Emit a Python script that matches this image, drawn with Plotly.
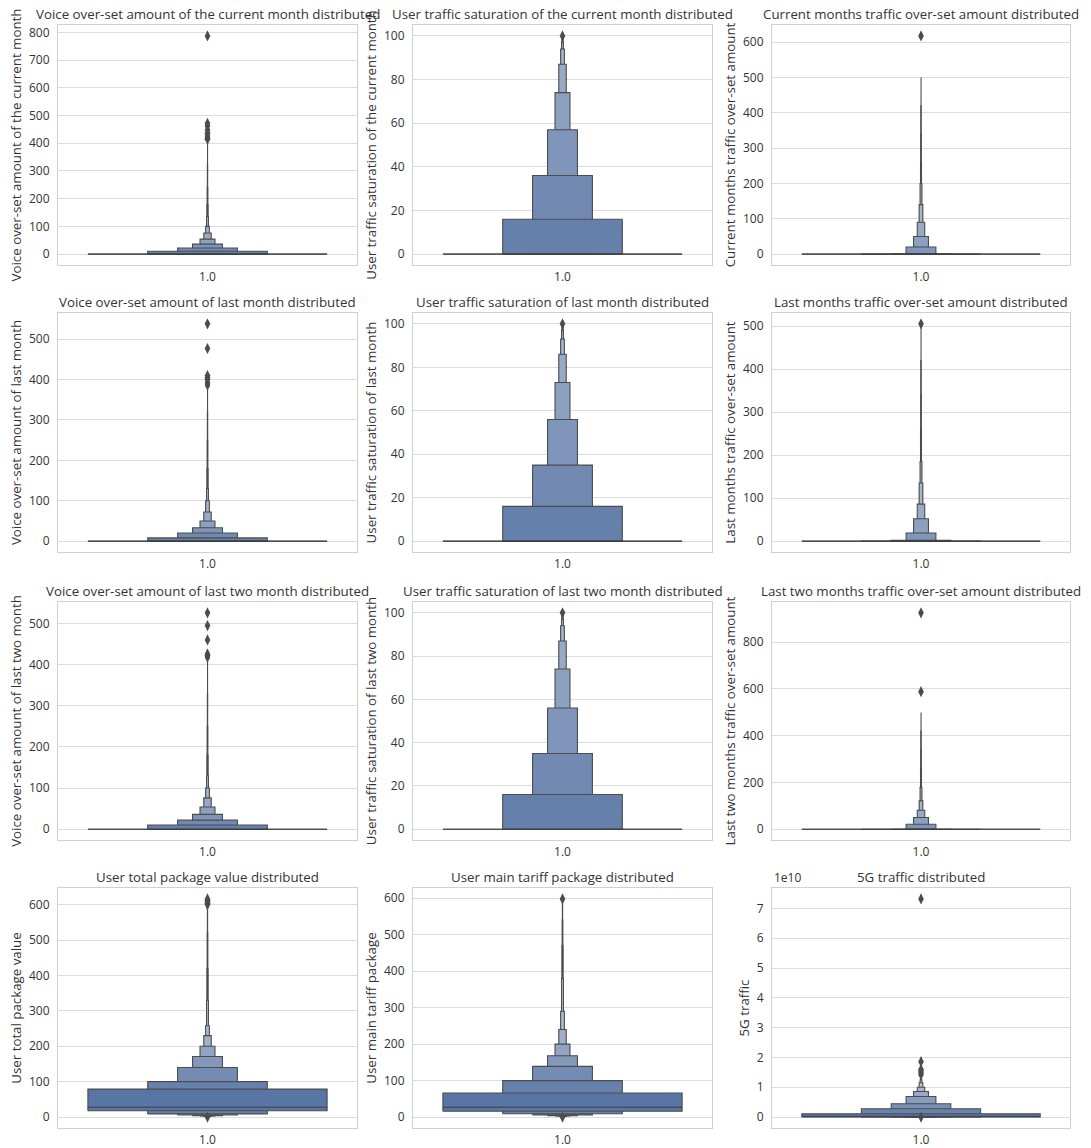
import plotly.graph_objects as go

# ---------------- data (letter values) ----------------
titles = [
    "Voice over-set amount of the current month distributed",
    "User traffic saturation of the current month distributed",
    "Current months traffic over-set amount distributed",
    "Voice over-set amount of last month distributed",
    "User traffic saturation of last month distributed",
    "Last months traffic over-set amount distributed",
    "Voice over-set amount of last two month distributed",
    "User traffic saturation of last two month distributed",
    "Last two months traffic over-set amount distributed",
    "User total package value distributed",
    "User main tariff package distributed",
    "5G traffic distributed",
]
ylabels = [
    "Voice over-set amount of the current month",
    "User traffic saturation of the current month",
    "Current months traffic over-set amount",
    "Voice over-set amount of last month",
    "User traffic saturation of last month",
    "Last months traffic over-set amount",
    "Voice over-set amount of last two month",
    "User traffic saturation of last two month",
    "Last two months traffic over-set amount",
    "User total package value",
    "User main tariff package",
    "5G traffic",
]
category_label = "1.0"

# upper / lower letter values, from the quartiles (IQR box) outward
p1_hi = [0, 10, 22, 36, 54, 76, 100, 136, 180, 240, 320, 402]
p1_lo = [0] * 12
p1_med = 0
p1_out = [414, 420, 426, 436, 448, 462, 472, 787]

p2_hi = [0, 16, 36, 57, 74, 87, 94, 97, 99, 99.6, 100, 100]
p2_lo = [0] * 12
p2_med = 0
p2_out = [100]

p3_hi = [0, 0, 2, 20, 50, 90, 140, 200, 260, 340, 420, 500]
p3_lo = [0] * 12
p3_med = 0
p3_out = [618]

p4_hi = [0, 8, 20, 33, 50, 72, 100, 130, 180, 250, 320, 380]
p4_lo = [0] * 12
p4_med = 0
p4_out = [386, 392, 400, 405, 410, 477, 538]

p5_hi = [0, 16, 35, 56, 73, 86, 93, 97, 99, 99.6, 100, 100]
p5_lo = [0] * 12
p5_med = 0
p5_out = [100]

p6_hi = [0, 0, 2, 19, 52, 86, 135, 185, 260, 340, 420, 500]
p6_lo = [0] * 12
p6_med = 0
p6_out = [505]

p7_hi = [0, 10, 22, 36, 54, 76, 100, 130, 180, 250, 330, 410]
p7_lo = [0] * 12
p7_med = 0
p7_out = [418, 422, 426, 460, 495, 526]

p8_hi = [0, 16, 35, 56, 74, 87, 94, 97, 99, 99.6, 100, 100]
p8_lo = [0] * 12
p8_med = 0
p8_out = [100]

p9_hi = [0, 0, 1, 21, 50, 81, 121, 178, 260, 340, 420, 499]
p9_lo = [0] * 12
p9_med = 0
p9_out = [588, 925]

p10_hi = [79, 100, 140, 171, 200, 230, 258, 330, 420, 520, 596]
p10_lo = [18, 9, 6, 4, 3, 2, 1.5, 1, 1, 0.5, 0.5]
p10_med = 28
p10_out = [0, 600, 604, 608, 612, 616]

p11_hi = [66, 100, 139, 168, 200, 240, 290, 380, 470, 540, 594]
p11_lo = [16, 9, 6, 4, 3, 2, 1.5, 1, 1, 0.5, 0.5]
p11_med = 27
p11_out = [0, 598]

p12_hi = [0.11e10, 0.28e10, 0.45e10, 0.69e10, 0.86e10, 1.0e10, 1.15e10, 1.25e10, 1.32e10, 1.38e10]
p12_lo = [0.004e10, 0.002e10, 0.001e10, 0.0008e10, 0.0006e10, 0.0004e10, 0.0003e10, 0.0002e10, 0.0001e10, 0.0001e10]
p12_med = 0.02e10
p12_out = [0, 1.42e10, 1.48e10, 1.55e10, 1.6e10, 1.86e10, 7.32e10]

ticks_800 = [0, 100, 200, 300, 400, 500, 600, 700, 800]
ticks_100 = [0, 20, 40, 60, 80, 100]
ticks_600 = [0, 100, 200, 300, 400, 500, 600]
ticks_500 = [0, 100, 200, 300, 400, 500]
ticks_800b = [0, 200, 400, 600, 800]
ticks_5g = [0, 1e10, 2e10, 3e10, 4e10, 5e10, 6e10, 7e10]
ticks_5g_text = ["0", "1", "2", "3", "4", "5", "6", "7"]
offset_5g = "1e10"

panels = [
    (p1_hi, p1_lo, p1_med, p1_out, ticks_800, None),
    (p2_hi, p2_lo, p2_med, p2_out, ticks_100, None),
    (p3_hi, p3_lo, p3_med, p3_out, ticks_600, None),
    (p4_hi, p4_lo, p4_med, p4_out, ticks_500, None),
    (p5_hi, p5_lo, p5_med, p5_out, ticks_100, None),
    (p6_hi, p6_lo, p6_med, p6_out, ticks_500, None),
    (p7_hi, p7_lo, p7_med, p7_out, ticks_500, None),
    (p8_hi, p8_lo, p8_med, p8_out, ticks_100, None),
    (p9_hi, p9_lo, p9_med, p9_out, ticks_800b, None),
    (p10_hi, p10_lo, p10_med, p10_out, ticks_600, None),
    (p11_hi, p11_lo, p11_med, p11_out, ticks_600, None),
    (p12_hi, p12_lo, p12_med, p12_out, ticks_5g, ticks_5g_text),
]

# ---------------- styling / layout ----------------
W, H = 1091, 1148
FONT = "Open Sans"
TXT = "#333333"
GRAY = "#4c4c4c"
BASE = (88, 117, 164)
LIGHT = tuple(b + 0.85 * (255 - b) for b in BASE)
BOX_W = 0.8
TITLE_SIZE = 13.3
TICK_SIZE = 12

col_px = [(58, 357), (413, 712), (772, 1070)]
row_px = [(25, 265), (313, 552), (602, 840), (888, 1128)]


def level_color(v):
    c = [round(b + v * (l - b)) for b, l in zip(BASE, LIGHT)]
    return "rgb(%d,%d,%d)" % tuple(c)


fig = go.Figure()
annotations = []
layout = {}

for idx, (hi, lo, med, out, tv, tt) in enumerate(panels):
    r, c = divmod(idx, 3)
    n = idx + 1
    xa = "x" if n == 1 else "x%d" % n
    ya = "y" if n == 1 else "y%d" % n
    xk = "xaxis" if n == 1 else "xaxis%d" % n
    yk = "yaxis" if n == 1 else "yaxis%d" % n

    x0, x1 = col_px[c]
    y0, y1 = row_px[r]
    xd = [x0 / W, x1 / W]
    yd = [1 - y1 / H, 1 - y0 / H]

    k = len(hi)
    # boxes: outermost (narrowest) first, quartile box last
    for L in range(k - 1, -1, -1):
        w = BOX_W * 2.0 ** (-L)
        v = L / (k - 1)
        fig.add_trace(go.Scatter(
            x=[-w / 2, w / 2, w / 2, -w / 2, -w / 2],
            y=[lo[L], lo[L], hi[L], hi[L], lo[L]],
            mode="lines", fill="toself",
            fillcolor=level_color(v),
            line=dict(color=GRAY, width=1.1),
            xaxis=xa, yaxis=ya, showlegend=False, hoverinfo="skip",
        ))
    # median line
    fig.add_trace(go.Scatter(
        x=[-BOX_W / 2, BOX_W / 2], y=[med, med], mode="lines",
        line=dict(color="rgba(38,38,38,0.45)", width=1.5),
        xaxis=xa, yaxis=ya, showlegend=False, hoverinfo="skip",
    ))
    # outliers
    fig.add_trace(go.Scatter(
        x=[0] * len(out), y=out, mode="markers",
        marker=dict(symbol="diamond-tall", size=8, color=GRAY),
        xaxis=xa, yaxis=ya, showlegend=False,
    ))

    vals = list(hi) + list(lo) + list(out) + [med]
    vmin, vmax = min(vals), max(vals)
    span = vmax - vmin
    yr = [vmin - 0.05 * span, vmax + 0.05 * span]

    layout[xk] = dict(
        domain=xd, anchor=ya, range=[-0.5, 0.5],
        tickvals=[0], ticktext=[category_label], ticks="",
        showgrid=False, zeroline=False,
        showline=True, mirror=True, linecolor="#d0d0d0", linewidth=1,
        tickfont=dict(family=FONT, size=TICK_SIZE, color=TXT),
        ticklabelstandoff=1,
        fixedrange=True,
    )
    yax = dict(
        domain=yd, anchor=xa, range=yr,
        tickvals=tv, ticks="",
        showgrid=True, gridcolor="#dcdcdc", gridwidth=1, zeroline=False,
        showline=True, mirror=True, linecolor="#d0d0d0", linewidth=1,
        tickfont=dict(family=FONT, size=TICK_SIZE, color=TXT),
        ticklabelstandoff=5,
        title=dict(text=ylabels[idx], font=dict(family=FONT, size=TITLE_SIZE, color=TXT), standoff=4),
        automargin=False, fixedrange=True,
    )
    if tt is not None:
        yax["ticktext"] = tt
    layout[yk] = yax

    annotations.append(dict(
        text=titles[idx], x=(xd[0] + xd[1]) / 2, y=yd[1], xref="paper", yref="paper",
        xanchor="center", yanchor="bottom", yshift=0, showarrow=False,
        font=dict(family=FONT, size=TITLE_SIZE, color=TXT),
    ))
    if tt is not None:
        annotations.append(dict(
            text=offset_5g, x=xd[0], y=yd[1], xref="paper", yref="paper",
            xanchor="left", yanchor="bottom", yshift=0, showarrow=False,
            font=dict(family=FONT, size=TICK_SIZE, color=TXT),
        ))

fig.update_layout(
    width=W, height=H,
    margin=dict(l=0, r=0, t=0, b=0),
    paper_bgcolor="white", plot_bgcolor="white",
    annotations=annotations,
    showlegend=False,
    hovermode=False,
    **layout,
)

fig.write_html(
    "out.html",
    config={"displayModeBar": False, "staticPlot": True},
    post_script="document.body.style.margin='0px';",
)
